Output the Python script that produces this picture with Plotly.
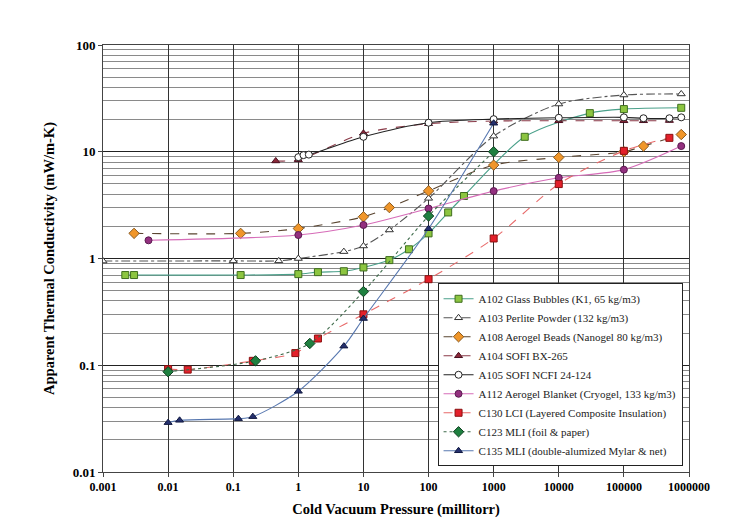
import plotly.graph_objects as go

# ---- data (pressure in millitorr, k in mW/m-K) ----
a102_x = [0.0022, 0.003, 0.13, 1, 2, 5, 10, 25, 50, 100, 200, 350, 3000, 30000, 100000, 760000]
a102_y = [0.70, 0.70, 0.70, 0.714, 0.745, 0.76, 0.824, 0.966, 1.22, 1.72, 2.7, 3.85, 13.8, 23, 25.1, 25.8]

a103_x = [0.001, 0.1, 0.5, 1, 5, 10, 25, 100, 1000, 10000, 100000, 760000]
a103_y = [0.946, 0.95, 0.95, 1.0, 1.16, 1.31, 1.85, 3.66, 14.0, 28, 34, 34.8]

a108_x = [0.003, 0.13, 1, 10, 25, 100, 1000, 10000, 100000, 200000, 760000]
a108_y = [1.72, 1.72, 1.91, 2.46, 3.0, 4.3, 7.5, 8.85, 10.0, 11.3, 14.5]

a104_x = [0.45, 1, 10, 100, 1000, 10000, 100000, 200000, 500000]
a104_y = [8.2, 8.4, 14.9, 18.3, 19.4, 19.5, 19.5, 19.5, 19.6]

a105_x = [1, 1.2, 1.45, 10, 100, 1000, 10000, 100000, 200000, 500000, 760000]
a105_y = [8.9, 9.3, 9.4, 13.8, 18.7, 20.2, 20.8, 21.0, 20.6, 20.6, 21.0]

a112_x = [0.005, 1, 10, 100, 1000, 10000, 100000, 760000]
a112_y = [1.48, 1.66, 2.06, 2.94, 4.28, 5.7, 6.8, 11.3]

c130_x = [0.01, 0.02, 0.2, 0.9, 2, 10, 100, 1000, 10000, 100000, 500000]
c130_y = [0.092, 0.091, 0.11, 0.13, 0.178, 0.30, 0.64, 1.54, 4.98, 10.2, 13.5]

c123_x = [0.01, 0.22, 1.5, 10, 100, 1000]
c123_y = [0.087, 0.11, 0.16, 0.49, 2.5, 10.0]

c135_x = [0.01, 0.015, 0.12, 0.2, 1, 5, 10, 100, 1000]
c135_y = [0.029, 0.0305, 0.0316, 0.033, 0.057, 0.151, 0.274, 1.9, 18.5]

x_ticks = [0.001, 0.01, 0.1, 1, 10, 100, 1000, 10000, 100000, 1000000]
x_ticktext = ["0.001", "0.01", "0.1", "1", "10", "100", "1000", "10000", "100000", "1000000"]
y_ticks = [0.01, 0.1, 1, 10, 100]
y_ticktext = ["0.01", "0.1", "1", "10", "100"]

series = [
    ("A102 Glass Bubbles (K1, 65 kg/m3)", a102_x, a102_y, "square", "#8cc540", "#3f6e1e", "#4aa08a", "solid"),
    ("A103 Perlite Powder (132 kg/m3)", a103_x, a103_y, "triangle-up", "white", "#333333", "#555555", "dashdot"),
    ("A108 Aerogel Beads (Nanogel 80 kg/m3)", a108_x, a108_y, "diamond", "#f0962a", "#8a5a20", "#5a4530", "dash"),
    ("A104 SOFI BX-265", a104_x, a104_y, "triangle-up", "#8a2838", "#4a1020", "#8a3a48", "dash"),
    ("A105 SOFI NCFI 24-124", a105_x, a105_y, "circle", "white", "#222222", "#222222", "solid"),
    ("A112 Aerogel Blanket (Cryogel, 133 kg/m3)", a112_x, a112_y, "circle", "#93307f", "#5a1a50", "#d66cb8", "solid"),
    ("C130 LCI (Layered Composite Insulation)", c130_x, c130_y, "square", "#e3202a", "#8a1010", "#e86a6a", "dash"),
    ("C123 MLI (foil & paper)", c123_x, c123_y, "diamond", "#1f8040", "#0f4020", "#3d6a4a", "dot"),
    ("C135 MLI (double-alumized Mylar & net)", c135_x, c135_y, "triangle-up", "#25306e", "#101840", "#5878b0", "solid"),
]

fig = go.Figure()
for name, xs, ys, sym, fill, edge, lcol, dash in series:
    fig.add_trace(go.Scatter(
        x=xs, y=ys, name=name, mode="lines+markers",
        line=dict(color=lcol, width=1.1, dash=dash, shape="spline", smoothing=0.8),
        marker=dict(symbol=sym, size=7 if sym != "diamond" else 8, color=fill,
                    line=dict(color=edge, width=1)),
    ))

serif = "Liberation Serif, Times New Roman, serif"

fig.update_layout(
    width=731, height=528,
    margin=dict(l=103, r=42, t=45, b=56),
    paper_bgcolor="white", plot_bgcolor="white",
    font=dict(family=serif, color="black"),
    showlegend=True,
    legend=dict(
        x=0.989, y=0.442, xanchor="right", yanchor="top",
        bgcolor="white", bordercolor="#222222", borderwidth=1,
        font=dict(family=serif, size=11, color="#222222"),
        itemwidth=30, tracegroupgap=0,
    ),
    xaxis=dict(
        type="log", range=[-3, 6],
        tickvals=x_ticks, ticktext=x_ticktext,
        tickfont=dict(family=serif, size=12, weight="bold"),
        showgrid=True, gridcolor="#333333", gridwidth=1,
        showline=True, linecolor="#444444", linewidth=1, mirror=True,
        ticks="outside", ticklen=4, tickcolor="#444444",
        zeroline=False,
        title=dict(text="Cold Vacuum Pressure (millitorr)",
                   font=dict(family=serif, size=14.5, weight="bold"), standoff=10),
    ),
    yaxis=dict(
        type="log", range=[-2, 2],
        tickvals=y_ticks, ticktext=y_ticktext,
        tickfont=dict(family=serif, size=13, weight="bold"),
        showgrid=True, gridcolor="#222222", gridwidth=1.3,
        minor=dict(showgrid=True, gridcolor="#8a8a8a", gridwidth=1, dtick="D1"),
        showline=True, linecolor="#444444", linewidth=1, mirror=True,
        ticks="outside", ticklen=4, tickcolor="#444444",
        zeroline=False,
        title=dict(text="Apparent Thermal Conductivity (mW/m-K)",
                   font=dict(family=serif, size=14.5, weight="bold"), standoff=14),
    ),
)

fig.write_html("out.html")
